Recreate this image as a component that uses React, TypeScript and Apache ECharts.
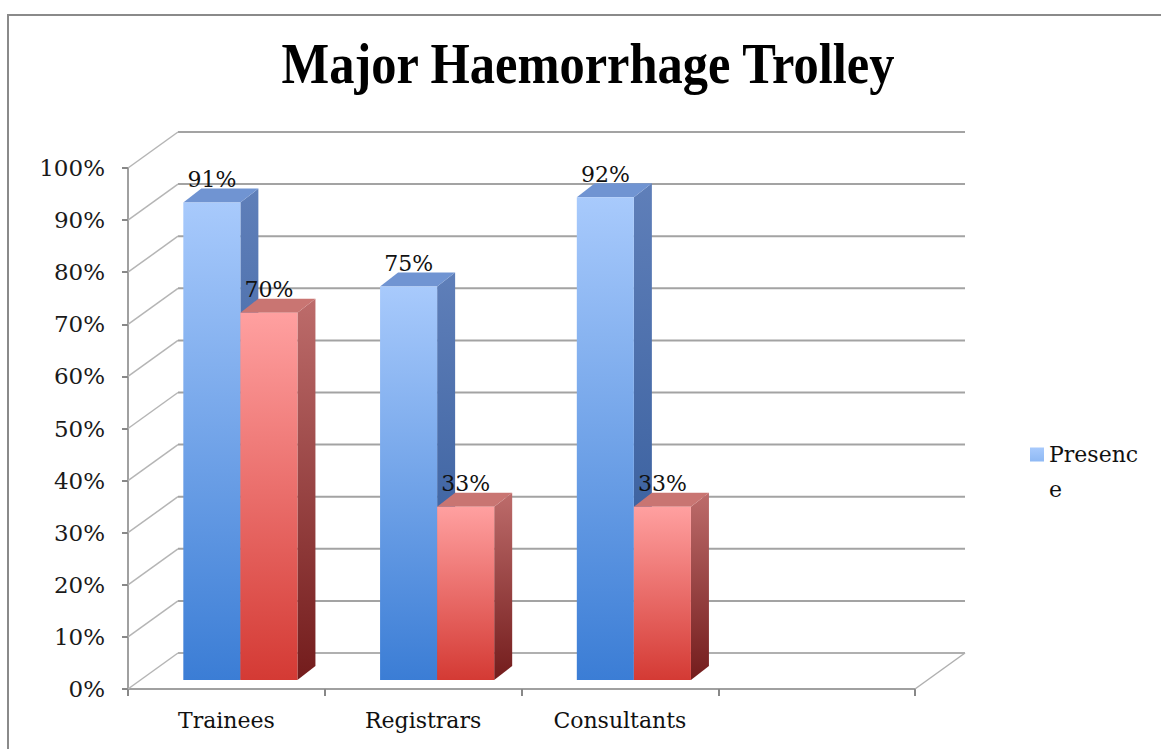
import React, { useEffect, useRef } from 'react';
import * as echarts from 'echarts';

const categories = ['Trainees', 'Registrars', 'Consultants', ''];
const presenceValues = [91, 75, 92];
const otherValues = [70, 33, 33];
const yTicks = [0, 10, 20, 30, 40, 50, 60, 70, 80, 90, 100];
const titleText = 'Major Haemorrhage Trolley';
const legendName = 'Presence';

const DX = 50;
const DY = -36;
const SHIFT_X = 14;
const SHIFT_Y = -9;
const SIDE_DX = 18;
const SIDE_DY = -14;
const FONT = '"DejaVu Serif", "Liberation Serif", serif';

const lg = (c0: string, c1: string, h = false) =>
  new echarts.graphic.LinearGradient(0, 0, h ? 1 : 0, h ? 0 : 1, [
    { offset: 0, color: c0 },
    { offset: 1, color: c1 },
  ]);

const BLUE = {
  front: ['#a8cafc', '#3b7dd5'],
  side: ['#5f7fb9', '#2d5595'],
  top: '#7094d2',
};
const RED = {
  front: ['#ffa0a0', '#d43a34'],
  side: ['#bd6c6b', '#731c1c'],
  top: '#c97572',
};

function barRenderer(left: boolean, pal: any) {
  return (params: any, api: any) => {
    const idx = api.value(0);
    const val = api.value(1);
    const base = api.coord([idx, 0]);
    const top = api.coord([idx, val]);
    const catW = api.size([1, 0])[0];
    const bw = catW * 0.29;
    const cx = base[0] + SHIFT_X;
    const x0 = left ? cx - bw : cx;
    const x1 = x0 + bw;
    const yb = base[1] + SHIFT_Y;
    const yt = top[1] + SHIFT_Y - (base[1] - top[1]) * 0.007;
    return {
      type: 'group',
      children: [
        {
          type: 'polygon',
          shape: { points: [[x1, yb], [x1 + SIDE_DX, yb + SIDE_DY], [x1 + SIDE_DX, yt + SIDE_DY], [x1, yt]] },
          style: { fill: lg(pal.side[0], pal.side[1]) },
        },
        {
          type: 'polygon',
          shape: { points: [[x0, yt], [x1, yt], [x1 + SIDE_DX, yt + SIDE_DY], [x0 + SIDE_DX, yt + SIDE_DY]] },
          style: { fill: pal.top },
        },
        {
          type: 'rect',
          shape: { x: x0, y: yt, width: bw, height: yb - yt },
          style: { fill: lg(pal.front[0], pal.front[1]) },
        },
        {
          type: 'text',
          x: (x0 + x1) / 2,
          y: yt - 12,
          style: {
            text: val + '%',
            fill: '#111',
            font: '22px ' + FONT,
            align: 'center',
            verticalAlign: 'bottom',
          },
        },
      ],
    };
  };
}

function frameRenderer(params: any, api: any) {
  const cs = params.coordSys;
  const v = api.value(1);
  const p = api.coord([0, v]);
  const y = p[1];
  const xl = cs.x;
  const xr = cs.x + cs.width;
  const children: any[] = [
    {
      type: 'line',
      shape: { x1: xl + DX, y1: y + DY, x2: xr + DX, y2: y + DY },
      style: { stroke: v === 0 ? '#b0b0b0' : '#a3a3a3', lineWidth: 2 },
    },
    {
      type: 'line',
      shape: { x1: xl, y1: y, x2: xl + DX, y2: y + DY },
      style: { stroke: '#b5b5b5', lineWidth: 1.5 },
    },
  ];
  if (v === 0) {
    children.push({
      type: 'line',
      shape: { x1: xr, y1: y, x2: xr + DX, y2: y + DY },
      style: { stroke: '#b0b0b0', lineWidth: 1.5 },
    });
  }
  return { type: 'group', children };
}

export default function App() {
  const ref = useRef<HTMLDivElement>(null);
  useEffect(() => {
    if (!ref.current) return;
    const chart = echarts.init(ref.current, undefined, { renderer: 'svg' });
    chart.setOption({
      animation: false,
      backgroundColor: '#ffffff',
      grid: { left: 128, top: 168, width: 787, height: 521, containLabel: false },
      legend: {
        left: 1030,
        top: 437,
        padding: 0,
        orient: 'vertical',
        itemWidth: 14,
        itemHeight: 49,
        data: [
          {
            name: legendName,
            icon: 'path://M0,0h14v14h-14z M0,48.9h0.1v0.1h-0.1z',
            itemStyle: { color: lg('#a8cafc', '#4f8ee0') },
          },
        ],
        textStyle: {
          fontFamily: FONT,
          fontSize: 22,
          color: '#111',
          width: 92,
          overflow: 'breakAll',
          lineHeight: 35,
        },
      },
      graphic: [
        {
          type: 'rect',
          shape: { x: 8, y: 15, width: 1165, height: 745 },
          style: { fill: 'none', stroke: '#8a8a8a', lineWidth: 2 },
          z: -1,
        },
        {
          type: 'text',
          x: 588,
          y: 64,
          scaleX: 0.87,
          style: {
            text: titleText,
            font: 'bold 58px "Liberation Serif", serif',
            fill: '#000',
            align: 'center',
            verticalAlign: 'middle',
          },
        },
      ],
      xAxis: {
        type: 'category',
        data: categories,
        axisLine: { show: true, lineStyle: { color: '#a0a0a0', width: 2 } },
        axisTick: { show: true, length: 7, lineStyle: { color: '#888', width: 2 } },
        axisLabel: { fontFamily: FONT, fontSize: 22, color: '#111', margin: 20 },
        splitLine: { show: false },
      },
      yAxis: {
        type: 'value',
        min: 0,
        max: 100,
        interval: 10,
        axisLine: { show: true, lineStyle: { color: '#a0a0a0', width: 2 } },
        axisTick: { show: true, length: 6, lineStyle: { color: '#888', width: 2 } },
        axisLabel: { fontFamily: FONT, fontSize: 23, color: '#1a1a1a', margin: 23, formatter: '{value}%' },
        splitLine: { show: false },
      },
      series: [
        {
          type: 'custom',
          name: 'frame',
          silent: true,
          clip: false,
          z: 1,
          renderItem: frameRenderer,
          data: yTicks.map((v) => [0, v]),
        },
        {
          type: 'custom',
          name: legendName,
          clip: false,
          z: 2,
          itemStyle: { color: '#6a9ee6' },
          renderItem: barRenderer(true, BLUE),
          data: presenceValues.map((v, i) => [i, v]),
        },
        {
          type: 'custom',
          name: 'Other',
          clip: false,
          z: 2,
          itemStyle: { color: '#e06666' },
          renderItem: barRenderer(false, RED),
          data: otherValues.map((v, i) => [i, v]),
        },
      ],
    });
    return () => chart.dispose();
  }, []);
  return (
    <div
      ref={ref}
      style={{ position: 'fixed', left: 0, top: 0, width: 1161, height: 749 }}
    />
  );
}
